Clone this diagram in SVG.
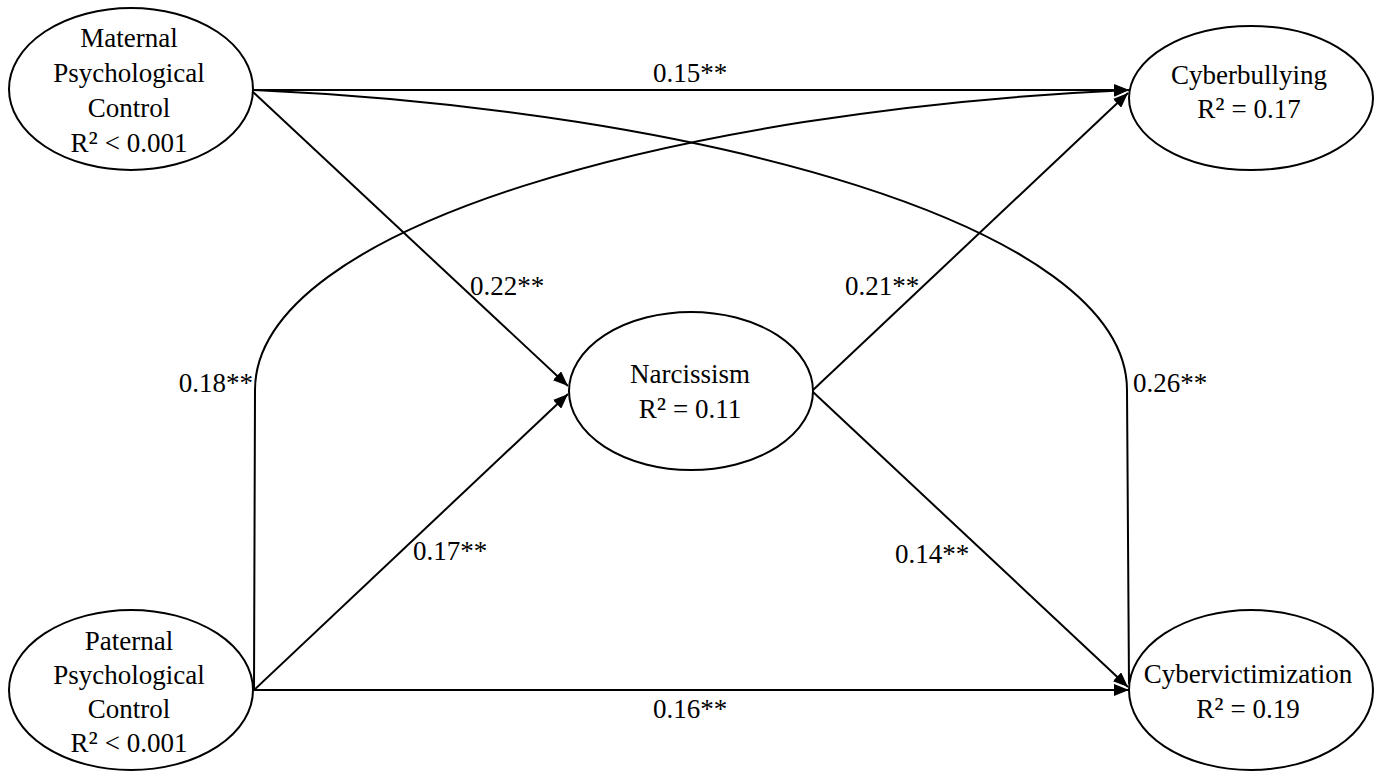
<svg xmlns="http://www.w3.org/2000/svg" width="1380" height="772" viewBox="0 0 1380 772">
<style>
.node ellipse{fill:#fff;stroke:#000;stroke-width:2}
text{font-family:"Liberation Serif","Times New Roman",serif;font-size:27px;fill:#000}
.nt{text-anchor:middle}
.sup{font-size:31px}
.edge{fill:none;stroke:#000;stroke-width:2}
</style>
<defs>
<marker id="ah" markerUnits="userSpaceOnUse" markerWidth="16" markerHeight="12" refX="15" refY="6" orient="auto">
<path d="M0,0 L15,6 L0,12 z" fill="#000"/>
</marker>
</defs>
<rect width="1380" height="772" fill="#fff"/>
<g id="connectors">
<path class="edge" d="M253,90 L1129,90" marker-end="url(#ah)"/>
<path class="edge" d="M253,92 L568,386" marker-end="url(#ah)"/>
<path class="edge" d="M253,90 C700,110 1127,225 1127,390 L1129,684"/>
<path class="edge" d="M254,690 L255,390 C255,225 682,110 1129,90" marker-end="url(#ah)"/>
<path class="edge" d="M254,690 L568,394" marker-end="url(#ah)"/>
<path class="edge" d="M254,690 L1129,690" marker-end="url(#ah)"/>
<path class="edge" d="M813,390 L1128,93" marker-end="url(#ah)"/>
<path class="edge" d="M813,392 L1128,687" marker-end="url(#ah)"/>
<text x="690" y="82" class="nt">0.15**</text>
<text x="470" y="295">0.22**</text>
<text x="845" y="295">0.21**</text>
<text x="253" y="392" text-anchor="end">0.18**</text>
<text x="1133" y="392">0.26**</text>
<text x="413" y="560">0.17**</text>
<text x="895" y="563">0.14**</text>
<text x="690" y="718" class="nt">0.16**</text>
</g>
<g id="maternal" class="node">
<ellipse cx="131" cy="89" rx="122" ry="81"/>
<text class="nt" x="129" y="47">Maternal</text>
<text class="nt" x="129" y="82">Psychological</text>
<text class="nt" x="129" y="117">Control</text>
<text class="nt" x="129" y="152">R<tspan class="sup">²</tspan> &lt; 0.001</text>
</g>
<g id="cyberbullying" class="node">
<ellipse cx="1251" cy="98" rx="122" ry="72"/>
<text class="nt" x="1249" y="84">Cyberbullying</text>
<text class="nt" x="1249" y="118">R<tspan class="sup">²</tspan> = 0.17</text>
</g>
<g id="narcissism" class="node">
<ellipse cx="691" cy="391" rx="122" ry="79"/>
<text class="nt" x="690" y="383">Narcissism</text>
<text class="nt" x="690" y="418">R<tspan class="sup">²</tspan> = 0.11</text>
</g>
<g id="paternal" class="node">
<ellipse cx="131" cy="690" rx="122" ry="80"/>
<text class="nt" x="129" y="650">Paternal</text>
<text class="nt" x="129" y="684">Psychological</text>
<text class="nt" x="129" y="718">Control</text>
<text class="nt" x="129" y="752">R<tspan class="sup">²</tspan> &lt; 0.001</text>
</g>
<g id="cybervictimization" class="node">
<ellipse cx="1251" cy="690" rx="122" ry="80"/>
<text class="nt" x="1248" y="683">Cybervictimization</text>
<text class="nt" x="1248" y="718">R<tspan class="sup">²</tspan> = 0.19</text>
</g>
</svg>
